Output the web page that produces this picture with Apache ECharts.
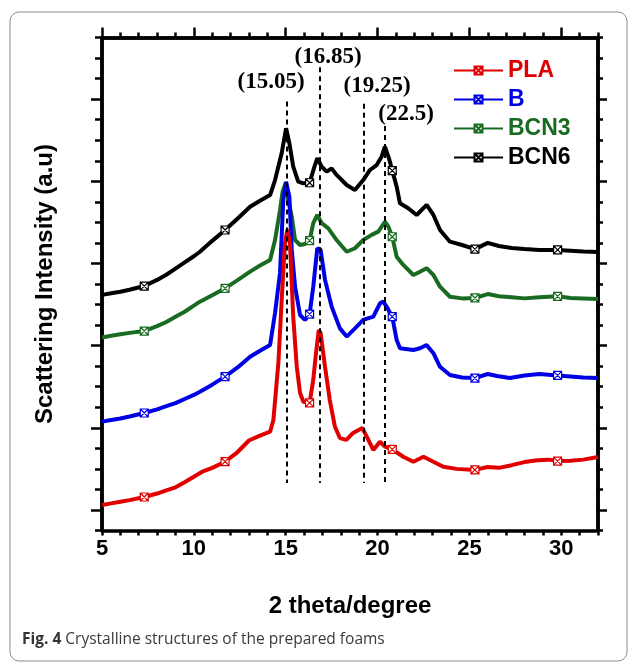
<!DOCTYPE html>
<html>
<head>
<meta charset="utf-8">
<script src="https://cdn.jsdelivr.net/npm/echarts@6/dist/echarts.min.js"></script>
<style>html,body{margin:0;padding:0;background:#fff}#c{width:630px;height:662px}</style>
</head>
<body>
<div id="c"></div>
<script>
// ---- data (2 theta in degrees, intensity in arbitrary units) ----
const markerTheta = [7.3, 11.7, 16.3, 20.8, 25.3, 29.8];

const thetaPLA = [5.0,5.5,6.0,6.5,7.3,8.0,8.5,9.0,9.5,10.0,10.5,11.0,11.7,12.3,13.0,13.6,14.15,14.33,14.6,14.78,14.96,15.09,15.23,15.41,15.6,15.78,15.96,16.3,16.5,16.65,16.8,16.9,17.14,17.4,17.68,17.95,18.3,18.67,19.17,19.41,19.77,20.13,20.4,20.8,21.4,21.95,22.5,23.04,23.58,24.3,25.3,26.0,26.6,27.3,28.0,28.7,29.3,29.8,30.5,31.2,32.0];
const intPLA   = [1.24,1.32,1.40,1.48,1.63,1.80,1.95,2.10,2.35,2.62,2.88,3.05,3.35,3.75,4.38,4.62,4.81,5.38,8.15,11.2,14.0,14.65,14.0,10.4,8.0,6.7,6.27,6.21,7.33,8.64,9.76,9.62,7.97,6.35,5.05,4.5,4.41,4.75,4.99,4.57,3.92,4.32,4.08,3.95,3.59,3.35,3.59,3.35,3.1,3.0,2.95,3.09,3.05,3.18,3.33,3.42,3.45,3.38,3.4,3.45,3.58];

const thetaB = [5.0,5.5,6.0,6.5,7.3,8.0,8.5,9.0,9.5,10.0,10.33,11.0,11.7,12.4,13.06,13.6,14.15,14.42,14.69,14.87,15.02,15.2,15.33,15.51,15.78,16.05,16.3,16.5,16.72,16.9,17.14,17.5,17.95,18.32,18.77,19.22,19.77,20.13,20.31,20.49,20.8,21.04,21.22,21.95,22.31,22.67,23.04,23.4,23.94,24.6,25.3,26.0,26.5,27.2,28.0,28.8,29.8,30.5,31.2,32.0];
const intB   = [5.3,5.38,5.45,5.55,5.72,5.9,6.05,6.2,6.4,6.6,6.76,7.1,7.49,7.95,8.46,8.75,9.03,10.59,12.54,16.09,16.98,16.25,13.66,11.87,10.49,10.25,10.53,11.87,13.74,13.66,12.2,10.9,9.84,9.44,9.84,10.25,10.41,11.06,11.14,10.9,10.41,9.27,8.87,8.79,8.87,9.03,8.63,7.97,7.57,7.45,7.42,7.62,7.52,7.42,7.55,7.62,7.55,7.5,7.45,7.42];

const thetaBCN3 = [5.0,5.5,6.0,6.5,7.3,8.0,8.5,9.0,9.5,10.0,10.33,11.0,11.7,12.4,13.06,13.6,14.15,14.42,14.69,14.83,15.0,15.14,15.33,15.51,15.78,16.05,16.3,16.5,16.72,16.96,17.32,17.77,18.32,18.77,19.22,19.68,20.04,20.4,20.59,20.8,21.04,21.4,21.95,22.31,22.67,23.04,23.4,23.94,24.6,25.3,26.0,26.6,27.3,28.0,28.8,29.8,30.5,31.2,32.0];
const intBCN3   = [9.4,9.48,9.55,9.62,9.71,9.95,10.15,10.4,10.65,10.95,11.14,11.45,11.79,12.2,12.6,12.9,13.17,14.14,15.6,16.5,16.92,16.09,15.28,14.14,13.9,13.95,14.11,14.96,15.36,14.96,14.71,14.14,13.57,13.74,14.14,14.39,14.55,15.03,14.79,14.3,13.33,12.93,12.44,12.6,12.77,12.44,11.87,11.38,11.3,11.32,11.51,11.4,11.35,11.3,11.35,11.4,11.32,11.3,11.27];

const thetaBCN6 = [5.0,5.5,6.0,6.5,7.3,8.0,8.5,9.0,9.5,10.0,10.33,11.0,11.7,12.4,13.06,13.6,14.15,14.42,14.78,15.02,15.2,15.41,15.68,15.96,16.3,16.59,16.72,16.96,17.23,17.5,17.77,18.32,18.77,19.22,19.59,19.95,20.22,20.4,20.62,20.8,21.04,21.22,21.67,22.13,22.67,23.04,23.4,23.94,24.6,25.3,26.0,26.6,27.3,28.0,28.8,29.8,30.5,31.2,32.0];
const intBCN6   = [11.47,11.55,11.62,11.72,11.9,12.2,12.45,12.75,13.05,13.35,13.57,14.1,14.63,15.2,15.76,16.05,16.33,17.06,18.36,19.58,18.85,17.71,16.98,16.9,16.93,17.79,18.12,17.71,17.47,17.63,17.31,16.82,16.58,17.06,17.55,17.79,18.2,18.69,18.12,17.52,16.74,15.93,15.69,15.36,15.85,15.36,14.63,14.06,13.9,13.7,14.0,13.85,13.75,13.7,13.65,13.66,13.62,13.58,13.56];

// reference peak lines
const refTheta  = [15.05, 16.85, 19.25, 20.4];
const refTop    = [20.88, 22.55, 20.77, 19.69];
const refBottom = [2.31, 2.31, 2.31, 2.31];
const refLabels = ['(15.05)', '(16.85)', '(19.25)', '(22.5)'];

const xTickLabels = [5, 10, 15, 20, 25, 30];
const xMinorTicks = [5,6,7,8,9,10,11,12,13,14,15,16,17,18,19,20,21,22,23,24,25,26,27,28,29,30,31,32];
const yMajorTicks = [1, 5, 9, 13, 17, 21];
const yMinorCats = ['0','1','2','3','4','5','6','7','8','9','10','11','12','13','14','15','16','17','18','19','20','21','22','23','24'];

// ---- chart ----
const chart = echarts.init(document.getElementById('c'), null, {renderer: 'canvas'});
const markerPath = 'path://M0,0L10,0L10,10L0,10Z M0,0L10,10 M10,0L0,10';
const SANS = '"Liberation Sans", Arial, sans-serif';
const SERIF = '"Liberation Serif", "Times New Roman", serif';

function build(xs, ys) {
  return xs.map((x, i) => markerTheta.indexOf(x) >= 0 ? [x, ys[i]] : {value: [x, ys[i]], symbol: 'none'});
}
function lineSeries(name, xs, ys, color) {
  return {
    name: name, type: 'line', xAxisIndex: 0, yAxisIndex: 0,
    data: build(xs, ys),
    symbol: markerPath, symbolSize: 8, showSymbol: true, showAllSymbol: true,
    lineStyle: {color: color, width: 4},
    itemStyle: {color: '#ffffff', borderColor: color, borderWidth: 1.2},
    emphasis: {disabled: true},
    animation: false
  };
}

const colors = {PLA: '#e00000', B: '#0000e6', BCN3: '#1a6b22', BCN6: '#000000'};

const lineOn = {show: true, onZero: false, lineStyle: {color: '#000', width: 3.5}};
const lineOff = {show: false, onZero: false};
const tickLine = {color: '#000', width: 2.5};
function ticks(vals, len) {
  return {show: true, inside: false, length: len, customValues: vals, lineStyle: tickLine};
}
const noLabel = {show: false};
const noSplit = {show: false};

function xAx(grid, pos, line, tick, extra) {
  return Object.assign({type: 'value', gridIndex: grid, position: pos, min: 5, max: 32,
    axisLine: line, axisTick: tick, axisLabel: noLabel, splitLine: noSplit}, extra || {});
}
function yAx(grid, pos, line, tick, extra) {
  return Object.assign({type: 'value', gridIndex: grid, position: pos, min: 0, max: 24,
    axisLine: line, axisTick: tick, axisLabel: noLabel, splitLine: noSplit}, extra || {});
}

const refLines = refTheta.map((x, i) => [{coord: [x, refTop[i]]}, {coord: [x, refBottom[i]]}]);

const series = [
  lineSeries('BCN6', thetaBCN6, intBCN6, colors.BCN6),
  lineSeries('BCN3', thetaBCN3, intBCN3, colors.BCN3),
  lineSeries('B', thetaB, intB, colors.B),
  lineSeries('PLA', thetaPLA, intPLA, colors.PLA)
];
series[3].markLine = {
  silent: true, symbol: ['none', 'none'], animation: false,
  label: {show: false},
  lineStyle: {color: '#000', width: 2, type: [5, 4]},
  data: refLines
};

const labelPos = [[271, 82], [328, 57], [377, 86], [406, 114]];
const gridRect = {left: 102, right: 32, top: 37.5, bottom: 131.5, containLabel: false, outerBoundsMode: 'none'};

const option = {
  animation: false,
  grid: [gridRect, gridRect, gridRect, gridRect],
  legend: {
    orient: 'vertical', left: 453, top: 59, padding: 0,
    itemWidth: 49, itemHeight: 10, itemGap: 6,
    textStyle: {fontFamily: SANS, fontWeight: 'bold', fontSize: 23, lineHeight: 23},
    data: [
      {name: 'PLA', textStyle: {color: colors.PLA}},
      {name: 'B', textStyle: {color: colors.B}},
      {name: 'BCN3', textStyle: {color: colors.BCN3}},
      {name: 'BCN6', textStyle: {color: colors.BCN6}}
    ],
    selectedMode: false
  },
  xAxis: [
    xAx(0, 'bottom', lineOn, ticks(xMinorTicks, 5), {
      axisLabel: {show: true, customValues: xTickLabels, margin: 7, color: '#000', fontFamily: SANS, fontWeight: 'bold', fontSize: 22},
      name: '2 theta/degree', nameLocation: 'middle', nameGap: 64,
      nameTextStyle: {color: '#000', fontFamily: SANS, fontWeight: 'bold', fontSize: 24}}),
    xAx(1, 'top', lineOn, ticks(xTickLabels, 10)),
    xAx(2, 'top', lineOn, ticks(xMinorTicks, 5)),
    xAx(3, 'bottom', lineOff, {show: false})
  ],
  yAxis: [
    yAx(0, 'left', lineOn, ticks(yMajorTicks, 11), {
      name: 'Scattering Intensity (a.u)', nameLocation: 'middle', nameGap: 45, nameRotate: 90,
      nameTextStyle: {color: '#000', fontFamily: SANS, fontWeight: 'bold', fontSize: 24}}),
    yAx(1, 'right', lineOn, ticks(yMajorTicks, 9)),
    // left minor ticks: value axis with major step 4 plus minor ticks between
    yAx(2, 'left', lineOn, {show: true, inside: false, length: 7, lineStyle: tickLine}, {
      interval: 4,
      minorTick: {show: true, splitNumber: 4, length: 7, lineStyle: tickLine}}),
    // right minor ticks: category axis, one tick per unit
    {type: 'category', gridIndex: 3, position: 'right', data: yMinorCats, boundaryGap: false,
     axisLine: lineOn, axisTick: {show: true, inside: false, length: 5, interval: 0, alignWithLabel: true, lineStyle: tickLine},
     axisLabel: {show: false, interval: 0}, splitLine: noSplit}
  ],
  series: series,
  graphic: [
    {type: 'rect', z: -10, silent: true,
     shape: {x: 10, y: 12, width: 617, height: 649, r: 9},
     style: {fill: 'none', stroke: '#8a8a8a', lineWidth: 1}}
  ].concat(refLabels.map((t, i) => ({
    type: 'text', silent: true, x: labelPos[i][0], y: labelPos[i][1],
    style: {text: t, fill: '#000', font: 'bold 23px ' + SERIF, align: 'center', verticalAlign: 'middle'}
  }))).concat([
    {type: 'text', silent: true, x: 22, y: 640,
     style: {
       text: '{b|Fig. 4} Crystalline structures of the prepared foams',
       fill: '#3a3a3a', font: '15.5px "Open Sans", sans-serif', verticalAlign: 'middle',
       rich: {b: {fontWeight: 'bold', fontSize: 15.5, fontFamily: '"Open Sans", sans-serif', fill: '#333'}}
     }}
  ])
};
chart.setOption(option);
</script>
</body>
</html>
